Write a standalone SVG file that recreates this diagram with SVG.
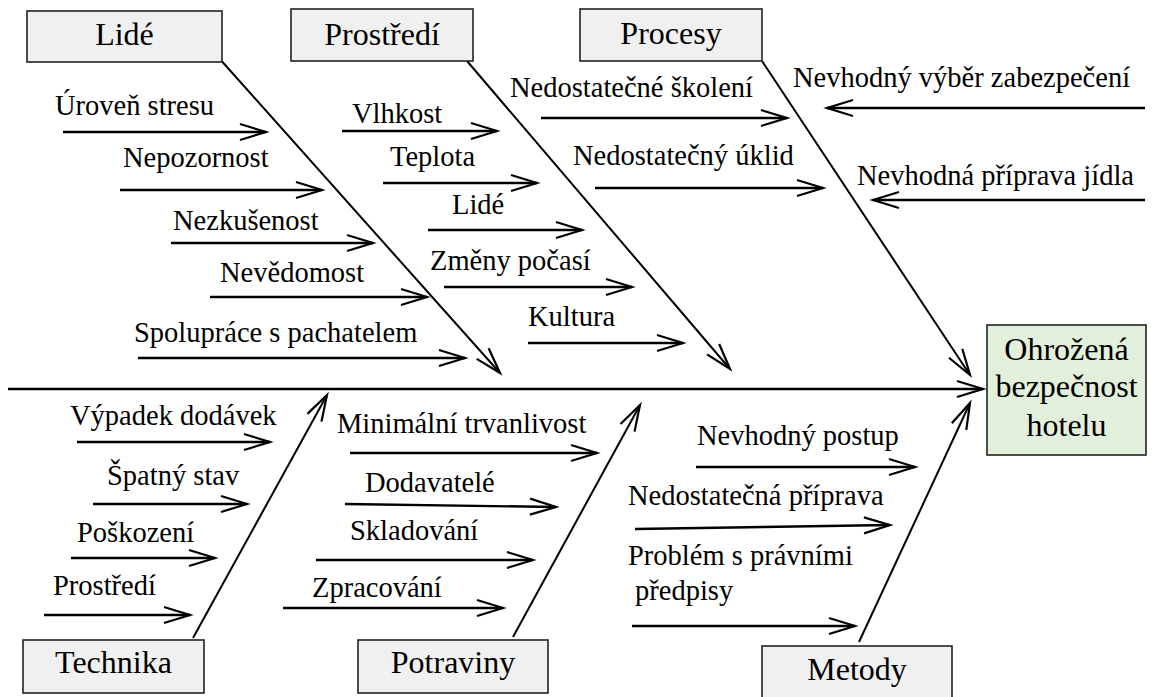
<svg xmlns="http://www.w3.org/2000/svg" width="1159" height="697" viewBox="0 0 1159 697">
<defs>
<marker id="ah" viewBox="-30 -12 34 24" refX="0" refY="0" markerWidth="34" markerHeight="24" markerUnits="userSpaceOnUse" orient="auto">
<path d="M-26,-8 L0,0 L-26,8" fill="none" stroke="#000" stroke-width="2.2"/>
</marker>
</defs>
<rect width="1159" height="697" fill="#fff"/>
<g id="connectors" stroke="#000" fill="none" marker-end="url(#ah)">
<g stroke-width="2.4">
<line x1="8" y1="389" x2="983" y2="389"/>
</g>
<g stroke-width="2">
<line x1="218" y1="57" x2="500" y2="373"/>
<line x1="467" y1="61" x2="730" y2="369"/>
<line x1="762" y1="61" x2="970" y2="375"/>
<line x1="193" y1="638" x2="327" y2="395"/>
<line x1="513" y1="637" x2="640" y2="405"/>
<line x1="859" y1="642" x2="970" y2="403"/>
</g>
<g stroke-width="2.4">
<line x1="63" y1="132" x2="266" y2="132"/>
<line x1="120" y1="190" x2="322" y2="190"/>
<line x1="171" y1="243" x2="373" y2="243"/>
<line x1="210" y1="297" x2="427" y2="297"/>
<line x1="138" y1="358" x2="465" y2="358"/>
<line x1="342" y1="131" x2="497" y2="131"/>
<line x1="383" y1="183" x2="537" y2="183"/>
<line x1="428" y1="230" x2="582" y2="230"/>
<line x1="444" y1="287" x2="632" y2="287"/>
<line x1="528" y1="343" x2="683" y2="343"/>
<line x1="541" y1="118" x2="787" y2="118"/>
<line x1="595" y1="188" x2="823" y2="188"/>
<line x1="1145" y1="108" x2="827" y2="108"/>
<line x1="1145" y1="200" x2="873" y2="200"/>
<line x1="77" y1="442" x2="270" y2="442"/>
<line x1="93" y1="504" x2="247" y2="504"/>
<line x1="71" y1="558" x2="215" y2="558"/>
<line x1="44" y1="615" x2="190" y2="615"/>
<line x1="350" y1="453" x2="597" y2="453"/>
<line x1="345" y1="504" x2="556" y2="507"/>
<line x1="316" y1="560" x2="533" y2="560"/>
<line x1="283" y1="608" x2="503" y2="608"/>
<line x1="696" y1="467" x2="915" y2="467"/>
<line x1="635" y1="529" x2="890" y2="525"/>
<line x1="632" y1="626" x2="855" y2="626"/>
</g>
</g>
<g id="labels" fill="#000">
<text font-family="Liberation Serif" font-size="28.5" x="55" y="115">Úroveň stresu</text>
<text font-family="Liberation Serif" font-size="28.5" x="123" y="167">Nepozornost</text>
<text font-family="Liberation Serif" font-size="28.5" x="173" y="230">Nezkušenost</text>
<text font-family="Liberation Serif" font-size="28.5" x="220" y="282">Nevědomost</text>
<text font-family="Liberation Serif" font-size="28.5" x="134" y="342">Spolupráce s pachatelem</text>
<text font-family="Liberation Serif" font-size="28.5" x="352" y="123">Vlhkost</text>
<text font-family="Liberation Serif" font-size="28.5" x="390" y="166">Teplota</text>
<text font-family="Liberation Serif" font-size="28.5" x="452" y="214">Lidé</text>
<text font-family="Liberation Serif" font-size="28.5" x="430" y="270">Změny počasí</text>
<text font-family="Liberation Serif" font-size="28.5" x="528" y="326">Kultura</text>
<text font-family="Liberation Serif" font-size="28.5" x="510" y="97">Nedostatečné školení</text>
<text font-family="Liberation Serif" font-size="28.5" x="573" y="165">Nedostatečný úklid</text>
<text font-family="Liberation Serif" font-size="28.5" x="793" y="87">Nevhodný výběr zabezpečení</text>
<text font-family="Liberation Serif" font-size="28.5" x="857" y="185">Nevhodná příprava jídla</text>
<text font-family="Liberation Serif" font-size="28.5" x="70" y="425">Výpadek dodávek</text>
<text font-family="Liberation Serif" font-size="28.5" x="107" y="485">Špatný stav</text>
<text font-family="Liberation Serif" font-size="28.5" x="77" y="542">Poškození</text>
<text font-family="Liberation Serif" font-size="28.5" x="53" y="595">Prostředí</text>
<text font-family="Liberation Serif" font-size="28.5" x="337" y="433">Minimální trvanlivost</text>
<text font-family="Liberation Serif" font-size="28.5" x="365" y="492">Dodavatelé</text>
<text font-family="Liberation Serif" font-size="28.5" x="350" y="540">Skladování</text>
<text font-family="Liberation Serif" font-size="28.5" x="312" y="597">Zpracování</text>
<text font-family="Liberation Serif" font-size="28.5" x="697" y="445">Nevhodný postup</text>
<text font-family="Liberation Serif" font-size="28.5" x="628" y="505">Nedostatečná příprava</text>
<text font-family="Liberation Serif" font-size="28.5" x="628" y="565">Problém s právními</text>
<text font-family="Liberation Serif" font-size="28.5" x="635" y="600">předpisy</text>
</g>
<g id="node-lide"><rect x="27" y="11" width="195" height="51" fill="#f0f0f0" stroke="#222" stroke-width="1.6"/><text font-family="Liberation Serif" font-size="32" text-anchor="middle" x="124.5" y="45">Lidé</text></g>
<g id="node-prostredi"><rect x="291" y="9" width="182" height="52" fill="#f0f0f0" stroke="#222" stroke-width="1.6"/><text font-family="Liberation Serif" font-size="32" text-anchor="middle" x="382" y="45">Prostředí</text></g>
<g id="node-procesy"><rect x="580" y="9" width="182" height="52" fill="#f0f0f0" stroke="#222" stroke-width="1.6"/><text font-family="Liberation Serif" font-size="32" text-anchor="middle" x="671" y="44">Procesy</text></g>
<g id="node-technika"><rect x="23" y="640" width="181" height="53" fill="#f0f0f0" stroke="#222" stroke-width="1.6"/><text font-family="Liberation Serif" font-size="32" text-anchor="middle" x="113.5" y="673">Technika</text></g>
<g id="node-potraviny"><rect x="358" y="640" width="190" height="53" fill="#f0f0f0" stroke="#222" stroke-width="1.6"/><text font-family="Liberation Serif" font-size="32" text-anchor="middle" x="453" y="673">Potraviny</text></g>
<g id="node-metody"><rect x="762" y="646" width="190" height="60" fill="#f0f0f0" stroke="#222" stroke-width="1.6"/><text font-family="Liberation Serif" font-size="32" text-anchor="middle" x="857" y="680">Metody</text></g>
<g id="node-effect"><rect x="987" y="325" width="159" height="130" fill="#e2efda" stroke="#222" stroke-width="1.6"/>
<text font-family="Liberation Serif" font-size="32" text-anchor="middle" x="1066.5" y="360">Ohrožená</text>
<text font-family="Liberation Serif" font-size="32" text-anchor="middle" x="1066.5" y="397">bezpečnost</text>
<text font-family="Liberation Serif" font-size="32" text-anchor="middle" x="1066.5" y="436">hotelu</text></g>
</svg>
